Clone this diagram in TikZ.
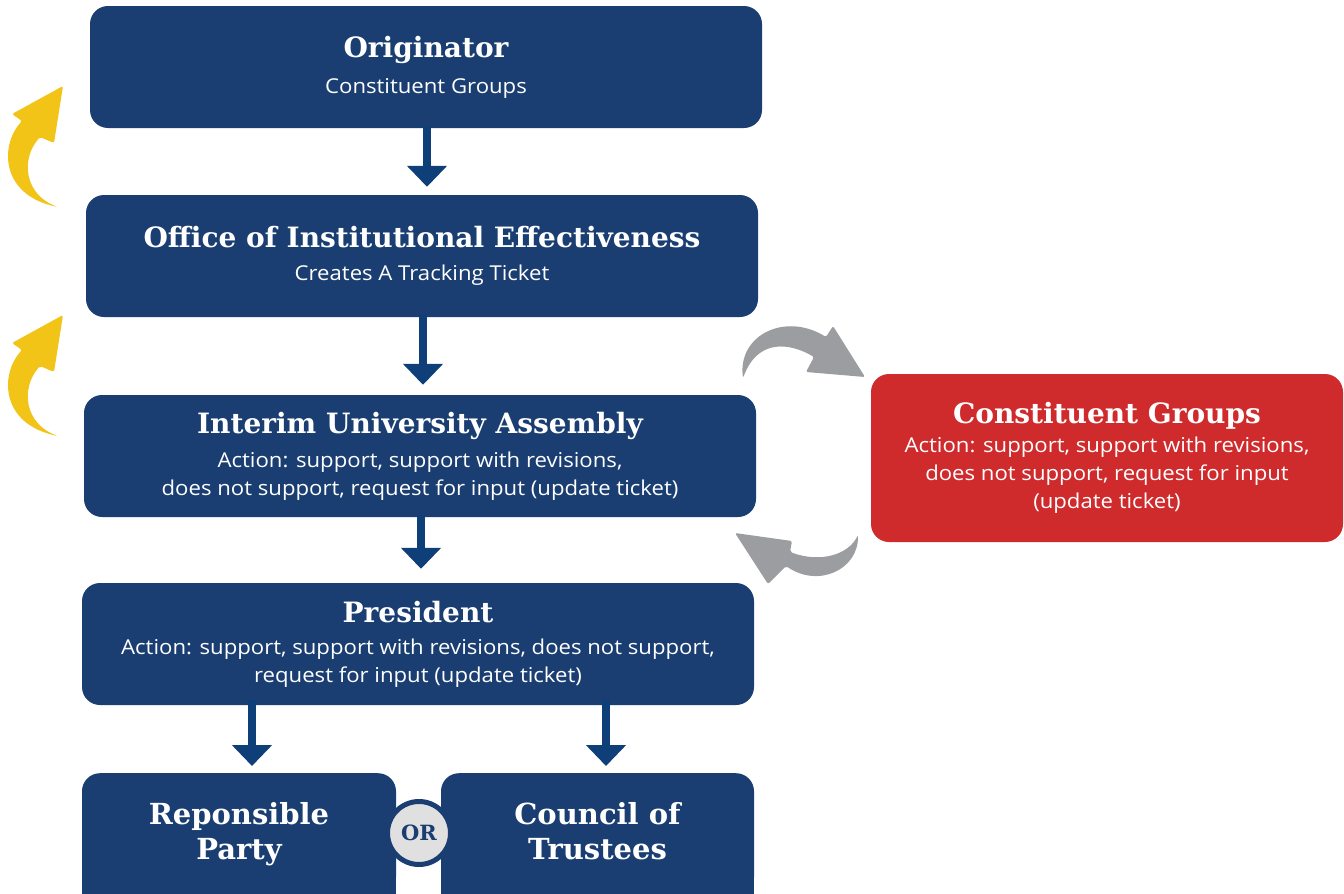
\documentclass[tikz,border=0pt]{standalone}
\usepackage{fontspec}
\setmainfont[FakeStretch=1.08]{Open Sans}
\newfontfamily\slabfont{DejaVu Serif}
\usetikzlibrary{arrows.meta}
\definecolor{navy}{HTML}{1A3E71}
\definecolor{arrnavy}{HTML}{0F3F78}
\definecolor{redbox}{HTML}{CF2B2D}
\definecolor{grayarr}{HTML}{9C9DA1}
\definecolor{yellowarr}{HTML}{F2C418}
\definecolor{orfill}{HTML}{E0E0E0}
\newcommand{\ttl}[1]{{\slabfont\bfseries\fontsize{28}{30}\selectfont #1}}
\newcommand{\bigttl}[1]{{\slabfont\bfseries\fontsize{29}{39}\selectfont #1\vphantom{Py}}}
\tikzset{
  box/.style={rectangle, rounded corners=18pt, fill=navy, text=white, align=center,
    inner sep=0pt, minimum width=672pt, minimum height=122pt,
    font=\fontsize{20.5}{28}\selectfont},
  flowarrow/.style={draw=arrnavy, line width=8pt,
    -{Triangle[length=21pt 0 0, width=39pt 0 0]}},
}
\begin{document}
\begin{tikzpicture}[x=1pt,y=-1pt]
\useasboundingbox (0,0) rectangle (1344,894);
% square-off the lower parts of the bottom boxes (they run off the page)
\fill[navy] (82,830) rectangle (396,900);
\fill[navy] (441,830) rectangle (754,900);
% boxes
\node[box] (orig) at (426,67) {\ttl{Originator}\\[8pt]Constituent Groups};
\node[box] (oie) at (422,256) {\ttl{Office of Institutional Effectiveness}\\[5pt]Creates A Tracking Ticket};
\node[box] (iua) at (420,456) {\ttl{Interim University Assembly}\\[6pt]Action: support, support with revisions,\\does not support, request for input (update ticket)};
\node[box] (pres) at (418,644) {\ttl{President}\\[4pt]Action: support, support with revisions, does not support,\\request for input (update ticket)};
\node[box, minimum width=314pt, anchor=north] (resp) at (239,773)
  {\bigttl{Reponsible}\\[7pt]\bigttl{Party}};
\node[box, minimum width=313pt, anchor=north] (coun) at (597.5,773)
  {\bigttl{Council of}\\[7pt]\bigttl{Trustees}};
\node[box, fill=redbox, minimum width=472pt, minimum height=168pt] (cg) at (1107,458)
  {\ttl{Constituent Groups}\\[1pt]Action: support, support with revisions,\\does not support, request for input\\(update ticket)};
\node[circle, fill=orfill, draw=navy, line width=5pt, minimum size=63pt, inner sep=0pt,
  text=navy, font=\slabfont\bfseries\fontsize{21}{24}\selectfont] (or) at (419,833) {OR};
% straight arrows
\draw[flowarrow] ([yshift=2pt]orig.south -| 427,0) -- ([yshift=8pt]oie.north -| 427,0);
\draw[flowarrow] ([yshift=2pt]oie.south -| 423,0) -- ([yshift=10pt]iua.north -| 423,0);
\draw[flowarrow] ([yshift=2pt]iua.south -| 421,0) -- ([yshift=14pt]pres.north -| 421,0);
\coordinate (pl) at (252,700);
\coordinate (pr) at (606,700);
\draw[flowarrow] (pl) -- ([yshift=7pt]resp.north -| pl);
\draw[flowarrow] (pr) -- ([yshift=7pt]coun.north -| pr);
% yellow curved arrows
\foreach \dy in {0,229}{
  \fill[yellowarr, rounded corners=2pt, yshift=-\dy pt]
    (63,86) -- (12,114) -- (22,121)
    .. controls (0,145) and (0,195) .. (58,207)
    .. controls (25,195) and (20,160) .. (40,137)
    -- (54,143) -- cycle;
}
% gray curved arrows
\fill[grayarr, rounded corners=2pt]
  (865,377) -- (806,372) -- (814,357)
  .. controls (790,343) and (758,338) .. (743,378)
  .. controls (738,335) and (785,312) .. (826,337)
  -- (833,326) -- cycle;
\fill[grayarr, rounded corners=2pt]
  (735,533) -- (792,541) -- (790,552)
  .. controls (820,563) and (848,555) .. (858,535)
  .. controls (858,570) and (818,588) .. (786,566)
  -- (768,584) -- cycle;
\end{tikzpicture}
\end{document}
